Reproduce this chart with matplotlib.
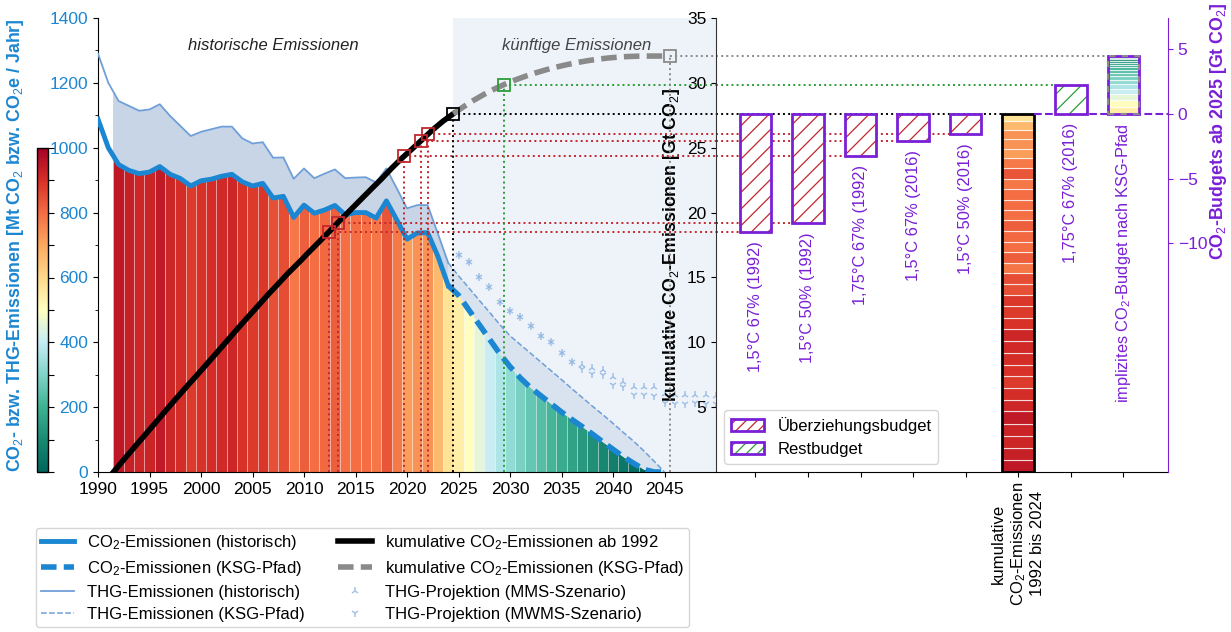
import matplotlib
matplotlib.use("Agg")
import matplotlib.pyplot as plt
import numpy as np
from matplotlib.colors import LinearSegmentedColormap, Normalize
from matplotlib.cm import ScalarMappable
from matplotlib.patches import Patch, Rectangle

plt.rcParams['font.family'] = 'Liberation Sans'
plt.rcParams['mathtext.fontset'] = 'custom'
plt.rcParams['mathtext.rm'] = 'Liberation Sans'
plt.rcParams['mathtext.it'] = 'Liberation Sans:italic'
plt.rcParams['mathtext.bf'] = 'Liberation Sans:bold'
plt.rcParams['hatch.linewidth'] = 0.9

# --- data (Mt CO2 / Mt CO2e per year) ---
hist_years = np.arange(1990, 2025)
co2_hist = [1088, 1000, 948, 930, 920, 925, 942, 918, 905, 882, 898, 903, 912, 918, 895, 882, 890,
            845, 850, 785, 823, 798, 808, 822, 793, 800, 800, 783, 836, 778, 718, 737, 738, 665, 575]
thg_hist = [1290, 1200, 1144, 1129, 1114, 1118, 1134, 1098, 1067, 1036, 1049, 1057, 1065, 1065, 1029,
            1013, 1017, 969, 970, 904, 936, 906, 920, 933, 906, 908, 909, 893, 936, 875, 813, 823, 823,
            735, 645]
ksg_years = np.arange(2024, 2046)
co2_ksg = [575, 545, 500, 455, 410, 365, 325, 290, 260, 235, 210, 185, 162, 140, 117, 93, 70, 47, 27,
           8, 0, 0]
thg_ksg = [645, 605, 568, 530, 493, 455, 420, 393, 366, 339, 312, 285, 257, 230, 203, 177, 150, 122,
           95, 65, 33, 0]
proj_years = np.arange(2025, 2051)
thg_mms = [669, 647, 602, 570, 525, 497, 477, 450, 419, 400, 368, 340, 330, 320, 315, 294, 277, 263,
           262, 262, 240, 237, 237, 238, 236, 235]
thg_mwms = [669, 647, 602, 570, 525, 497, 477, 450, 419, 400, 368, 340, 318, 302, 299, 268, 263, 237,
            236, 235, 214, 210, 210, 212, 210, 210]

# budgets ab 2025 (Gt CO2)
over_labels = ["1,5°C 67% (1992)", "1,5°C 50% (1992)", "1,75°C 67% (1992)",
               "1,5°C 67% (2016)", "1,5°C 50% (2016)"]
over_values = [-9.1, -8.42, -3.28, -2.11, -1.55]
rest_label = "1,75°C 67% (2016)"
rest_value = 2.25
impl_label = "implizites CO$_2$-Budget nach KSG-Pfad"
cum_bar_label = "kumulative\nCO$_2$-Emissionen\n1992 bis 2024"

blue = '#1b86d1'
lblue = '#6f9fd8'
purple = '#7a1fd6'
red = '#c1272d'
green = '#2a9d35'
gray = '#8a8a8a'

cmap = LinearSegmentedColormap.from_list('stripes', [
    (0.0, '#00665e'), (0.1, '#1b8a72'), (0.2, '#3fb294'), (0.3, '#80d4c8'), (0.4, '#c6ecf6'),
    (0.5, '#ffffbf'), (0.6, '#fed98a'), (0.7, '#fca95f'), (0.8, '#f46d43'), (0.9, '#d73027'),
    (1.0, '#a50026')])
norm = Normalize(0, 1000)

co2_hist = np.array(co2_hist, float)
co2_ksg = np.array(co2_ksg, float)
cum_x = np.arange(1991.5, 2025)
cum_hist = np.concatenate([[0], np.cumsum(co2_hist[2:]) / 1000])
offset = cum_hist[-1]
cum_ksg_x = np.arange(2024.5, 2046)
cum_ksg = offset + np.concatenate([[0], np.cumsum(co2_ksg[1:]) / 1000])
impl_value = cum_ksg[-1] - offset

fig = plt.figure(figsize=(12.31, 6.32), dpi=100)
ax = fig.add_axes([98 / 1231, 160 / 632, 618 / 1231, 454 / 632])
ax_bar = fig.add_axes([716 / 1231, 160 / 632, 452 / 1231, 454 / 632])
cax = fig.add_axes([37 / 1231, 160 / 632, 11 / 1231, 324 / 632])

# --- left: annual emissions ---
ax.set_xlim(1990, 2050)
ax.set_ylim(0, 1400)
ax.axvspan(2024.5, 2050, color='#eef3f9', lw=0, zorder=0)

all_years = np.concatenate([hist_years, ksg_years[1:]])
all_co2 = np.concatenate([co2_hist, co2_ksg[1:]])
clip_poly = ax.fill_between(all_years, 0, all_co2, color='none', lw=0)
clip_path = clip_poly.get_paths()[0]
sel = (all_years >= 1992) & (all_co2 > 0)
stripes = ax.bar(all_years[sel], ax.get_ylim()[1], width=1, color=cmap(norm(all_co2[sel])),
                 edgecolor=(1, 1, 1, 0.35), lw=0.6, zorder=1)
for b in stripes:
    b.set_clip_path(clip_path, ax.transData)

fh = ax.fill_between(hist_years, co2_hist, thg_hist, color='#c7d5e6', lw=0, zorder=2)
fh.set_clip_path(Rectangle((1991.5, 0), 40, 2000, transform=ax.transData))
ax.fill_between(ksg_years, co2_ksg, thg_ksg, color='#d9e3ef', lw=0, zorder=2)

l_thg, = ax.plot(hist_years, thg_hist, color=lblue, lw=1.3, zorder=4)
l_thg_ksg, = ax.plot(ksg_years, thg_ksg, color=lblue, lw=1.1, ls='--', zorder=4)
l_co2, = ax.plot(hist_years, co2_hist, color=blue, lw=3.5, zorder=5)
l_co2_ksg, = ax.plot(ksg_years, co2_ksg, color=blue, lw=4, dashes=(2.8, 1.3), zorder=5)
l_mms, = ax.plot(proj_years, thg_mms, ls='none', marker='2', ms=6, mew=1.1, color='#8ab2e0',
                 alpha=0.75, zorder=4)
l_mwms, = ax.plot(proj_years, thg_mwms, ls='none', marker='1', ms=6, mew=1.1, color='#8ab2e0',
                  alpha=0.75, zorder=4)

ax.text(2007, 1315, 'historische Emissionen', style='italic', ha='center', va='center',
        fontsize=12, color='#222222')
ax.text(2036.5, 1315, 'künftige Emissionen', style='italic', ha='center', va='center',
        fontsize=12, color='#444444')

ax.set_xticks(np.arange(1990, 2046, 5))
ax.set_yticks(np.arange(0, 1401, 200))
ax.set_yticks(np.arange(100, 1400, 200), minor=True)
ax.tick_params(axis='x', labelsize=12.5)
ax.tick_params(axis='y', labelsize=12.5, labelcolor=blue)
for s in ['top', 'right']:
    ax.spines[s].set_visible(False)
ax.set_ylabel('CO$_2$- bzw. THG-Emissionen [Mt CO$_2$ bzw. CO$_2$e / Jahr]', color=blue,
              fontsize=12.8, fontweight='bold')
ax.yaxis.set_label_coords(-0.117, 0.5)

cb = fig.colorbar(ScalarMappable(norm=norm, cmap=cmap), cax=cax)
cb.set_ticks(np.arange(0, 1001, 100))
cb.ax.tick_params(labelright=False, length=4)
cb.outline.set_linewidth(1)

# --- cumulative emissions (same frame, Gt CO2) ---
ax_cum = ax.twinx()
ax_cum.set_ylim(0, 35)
ax_cum.set_yticks([])
for s in ax_cum.spines.values():
    s.set_visible(False)
l_cum, = ax_cum.plot(cum_x, cum_hist, color='black', lw=4, zorder=5)
l_cum_ksg, = ax_cum.plot(cum_ksg_x, cum_ksg, color=gray, lw=4, dashes=(2.8, 1.3), zorder=5)

ax_bar.set_xlim(-0.75, 7.85)
ax_bar.set_ylim(0, 35)
x_left = ax_bar.get_xlim()[0]
bw = 0.6

marks = []
for i, v in enumerate(over_values):
    lev = offset + v
    marks.append((np.interp(lev, cum_hist, cum_x), lev, red, i))
marks.append((cum_x[-1], offset, 'black', 5))
marks.append((np.interp(offset + rest_value, cum_ksg, cum_ksg_x), offset + rest_value, green, 6))
marks.append((cum_ksg_x[-1], cum_ksg[-1], gray, 7))
for mx, lev, c, i in marks:
    ax_cum.vlines(mx, 0, lev, colors=c, linestyles=':', lw=1.4, zorder=4)
    ax_cum.hlines(lev, mx, 2050, colors=c, linestyles=':', lw=1.4, zorder=4)
    ax_bar.hlines(lev, x_left, i - bw / 2, colors=c, linestyles=':', lw=1.4, zorder=1)
    ax_cum.plot(mx, lev, marker='s', ms=8, mfc='none', mec=c, mew=1.3, zorder=6)

# --- right: budgets ---
seg = co2_hist[2:] / 1000
ax_bar.bar(5, seg, bottom=cum_hist[:-1], width=bw, color=cmap(norm(co2_hist[2:])),
           edgecolor=(1, 1, 1, 0.7), lw=0.8, zorder=2)
ax_bar.bar(5, offset, width=bw, fill=False, edgecolor='black', lw=2, zorder=3)
ax_bar.set_yticks(np.arange(5, 36, 5))
ax_bar.tick_params(axis='y', labelsize=12.5)
ax_bar.set_xticks(range(8))
ax_bar.set_xticklabels([''] * 5 + [cum_bar_label, '', ''], rotation=90, fontsize=12,
                       multialignment='center')
for s in ['top', 'right']:
    ax_bar.spines[s].set_visible(False)
ax_bar.spines['left'].set_color('#333333')
ax_bar.set_ylabel('kumulative CO$_2$-Emissionen [Gt CO$_2$]', fontsize=12.8, fontweight='bold')
ax_bar.yaxis.set_label_coords(-0.075, 0.5)

ax_r = ax_bar.twinx()
ax_r.set_ylim(-offset, 35 - offset)
ax_r.hlines(0, 5 + bw / 2, ax_bar.get_xlim()[1], colors=purple, linestyles='--', lw=1.5, zorder=1)
for i, v in enumerate(over_values):
    ax_r.bar(i, v, width=bw, color='white', edgecolor=red, hatch='//', lw=0, zorder=2)
    ax_r.bar(i, v, width=bw, fill=False, edgecolor=purple, lw=2, zorder=3)
    ax_r.text(i, v - 0.7, over_labels[i], rotation=90, ha='center', va='top', color=purple,
              fontsize=11.8)
ax_r.bar(6, rest_value, width=bw, color='white', edgecolor=green, hatch='//', lw=0, zorder=2)
ax_r.bar(6, rest_value, width=bw, fill=False, edgecolor=purple, lw=2, zorder=3)
ax_r.text(6, -0.7, rest_label, rotation=90, ha='center', va='top', color=purple, fontsize=11.8)

fut = co2_ksg[1:][co2_ksg[1:] > 0]
fut_bottom = np.concatenate([[0], np.cumsum(fut)[:-1]]) / 1000
ax_r.bar(7, fut / 1000, bottom=fut_bottom, width=bw, color=cmap(norm(fut)),
         edgecolor=(1, 1, 1, 0.7), lw=0.8, zorder=2)
ax_r.bar(7, impl_value, width=bw, fill=False, edgecolor=purple, lw=2, zorder=3)
ax_r.bar(7, impl_value, width=bw, fill=False, edgecolor=gray, lw=1.5, ls=(0, (3, 3)), zorder=4)
ax_r.text(7, -0.7, impl_label, rotation=90, ha='center', va='top', color=purple, fontsize=11.8)

ax_r.set_yticks([-10, -5, 0, 5])
ax_r.tick_params(axis='y', colors=purple, labelsize=12.5)
for s in ['left', 'top', 'bottom']:
    ax_r.spines[s].set_visible(False)
ax_r.spines['right'].set_color(purple)
ax_r.set_ylabel('CO$_2$-Budgets ab 2025 [Gt CO$_2$]', color=purple, fontsize=12.8,
                fontweight='bold')
ax_r.yaxis.set_label_coords(1.088, 0.75)

h_over = (Patch(facecolor='white', edgecolor=red, hatch='///', lw=0),
          Patch(facecolor='none', edgecolor=purple, lw=2))
h_rest = (Patch(facecolor='white', edgecolor=green, hatch='///', lw=0),
          Patch(facecolor='none', edgecolor=purple, lw=2))
ax_r.legend([h_over, h_rest], ['Überziehungsbudget', 'Restbudget'], loc='lower left', fontsize=12)

fig.legend([l_co2, l_co2_ksg, l_thg, l_thg_ksg, l_cum, l_cum_ksg, l_mms, l_mwms],
           ['CO$_2$-Emissionen (historisch)', 'CO$_2$-Emissionen (KSG-Pfad)',
            'THG-Emissionen (historisch)', 'THG-Emissionen (KSG-Pfad)',
            'kumulative CO$_2$-Emissionen ab 1992', 'kumulative CO$_2$-Emissionen (KSG-Pfad)',
            'THG-Projektion (MMS-Szenario)', 'THG-Projektion (MWMS-Szenario)'],
           loc='upper left', bbox_to_anchor=(0.029, 0.1646), ncols=2, fontsize=12,
           labelspacing=0.42, borderpad=0.3, borderaxespad=0)

fig.savefig('out.png', dpi=100)
